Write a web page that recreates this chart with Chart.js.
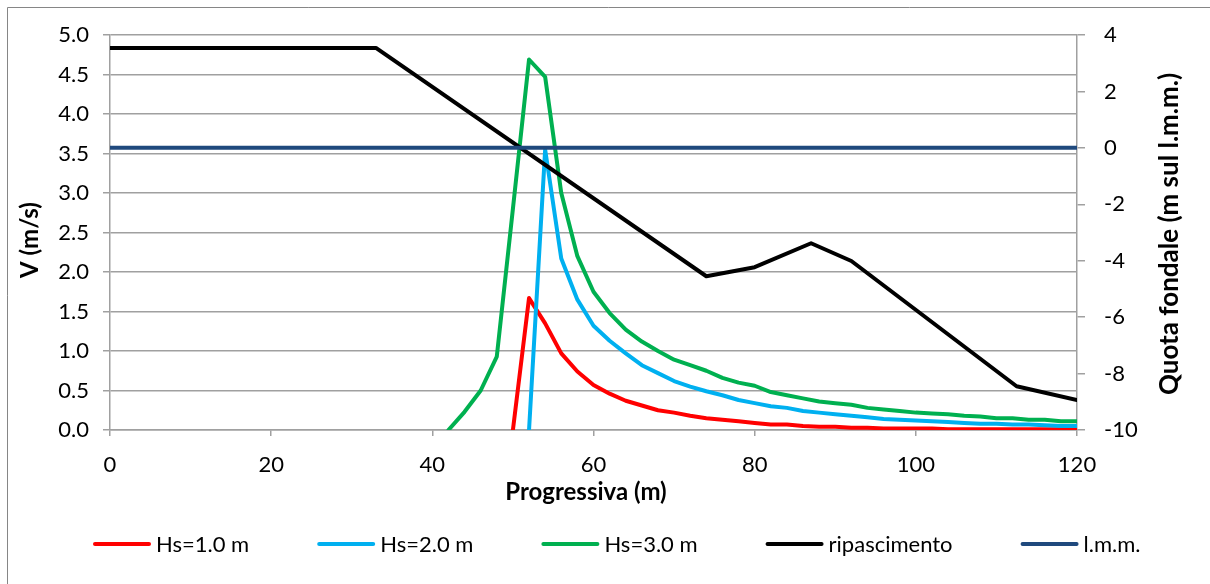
<!DOCTYPE html>
<html>
<head>
<meta charset="utf-8">
<title>Velocità e quota fondale</title>
<script src="https://cdn.jsdelivr.net/npm/chart.js@4.4.1/dist/chart.umd.min.js"></script>
<style>
  html, body { margin: 0; padding: 0; background: #fff; overflow: hidden; }
  #wrap { width: 1210px; height: 584px; position: relative; }
</style>
</head>
<body>
<div id="wrap"><canvas id="chart" width="1210" height="584"></canvas></div>
<script>
// ===== DATA =====
const progressiva = [42, 44, 46, 48, 50, 52, 54, 56, 58, 60, 62, 64, 66, 68, 70, 72, 74, 76, 78, 80,
                     82, 84, 86, 88, 90, 92, 94, 96, 98, 100, 102, 104, 106, 108, 110, 112, 114, 116, 118, 120];

const vHs1 = [null, null, null, null, 0, 1.67, 1.35, 0.97, 0.74, 0.57, 0.46, 0.37, 0.31, 0.25, 0.22, 0.18, 0.15, 0.13, 0.11, 0.09,
              0.07, 0.07, 0.05, 0.04, 0.04, 0.03, 0.03, 0.02, 0.02, 0.02, 0.02, 0.01, 0.01, 0.01, 0.01, 0.01, 0.01, 0.01, 0.01, 0.01];
const vHs2 = [null, null, null, null, null, 0, 3.55, 2.17, 1.65, 1.32, 1.13, 0.97, 0.82, 0.72, 0.62, 0.55, 0.49, 0.44, 0.38, 0.34,
              0.30, 0.28, 0.24, 0.22, 0.20, 0.18, 0.16, 0.14, 0.13, 0.12, 0.11, 0.10, 0.09, 0.08, 0.08, 0.07, 0.07, 0.06, 0.05, 0.05];
const vHs3 = [0, 0.23, 0.5, 0.93, 2.8, 4.69, 4.47, 3.0, 2.2, 1.75, 1.48, 1.27, 1.12, 1.0, 0.89, 0.82, 0.75, 0.66, 0.6, 0.56,
              0.48, 0.44, 0.4, 0.36, 0.34, 0.32, 0.28, 0.26, 0.24, 0.22, 0.21, 0.2, 0.18, 0.17, 0.15, 0.15, 0.13, 0.13, 0.11, 0.11];

const xRipascimento = [0, 33, 74, 80, 87, 92, 112.5, 120];
const zRipascimento = [3.54, 3.54, -4.55, -4.23, -3.38, -4.01, -8.45, -8.94];

const xLmm = [0, 120];
const zLmm = [0, 0];

const seriesNames = ["Hs=1.0 m", "Hs=2.0 m", "Hs=3.0 m", "ripascimento", "l.m.m."];
const seriesColors = ["#ff0000", "#00b0f0", "#00b050", "#000000", "#1f497d"];

const xTitle = "Progressiva (m)";
const yTitle = "V (m/s)";
const y2Title = "Quota fondale (m sul l.m.m.)";

// ===== HELPERS =====
const pairs = (xs, ys) => xs.map((x, i) => ({ x: x, y: ys[i] }));
const gridColor = "#a0a0a0";
const FONT = "Lato, 'Open Sans', sans-serif";

function lineSet(i, data, axis, order) {
  return {
    label: seriesNames[i],
    data: data,
    yAxisID: axis,
    borderColor: seriesColors[i],
    backgroundColor: seriesColors[i],
    borderWidth: 4,
    pointRadius: 0,
    pointHoverRadius: 0,
    tension: 0,
    fill: false,
    spanGaps: false,
    borderJoinStyle: "round",
    borderCapStyle: "round",
    order: order
  };
}

// axis titles, frame and legend drawn by hand (Excel-like placement)
const extras = {
  id: "extras",
  beforeDraw(chart) {
    const ctx = chart.ctx;
    ctx.save();
    ctx.strokeStyle = "#868686";
    ctx.lineWidth = 1;
    ctx.beginPath();
    ctx.moveTo(7.5, 584);
    ctx.lineTo(7.5, 7.5);
    ctx.lineTo(1210, 7.5);
    ctx.stroke();
    ctx.restore();
  },
  afterDraw(chart) {
    const ctx = chart.ctx;
    ctx.save();
    ctx.fillStyle = "#000";
    ctx.textBaseline = "alphabetic";
    ctx.textAlign = "center";
    // x title
    ctx.font = "bold 24px " + FONT;
    ctx.fillText(xTitle, 586, 500);
    // left title
    ctx.save();
    ctx.translate(38, 240);
    ctx.rotate(-Math.PI / 2);
    ctx.fillText(yTitle, 0, 0);
    ctx.restore();
    // right title
    ctx.font = "bold 26px " + FONT;
    ctx.save();
    ctx.translate(1178, 234);
    ctx.rotate(-Math.PI / 2);
    ctx.fillText(y2Title, 0, 0);
    ctx.restore();

    // legend
    ctx.font = "22px " + FONT;
    ctx.textAlign = "left";
    let x = 93;
    const y = 544;
    chart.data.datasets.forEach(ds => {
      ctx.strokeStyle = ds.borderColor;
      ctx.lineWidth = 4;
      ctx.lineCap = "round";
      ctx.beginPath();
      ctx.moveTo(x + 2, y);
      ctx.lineTo(x + 56, y);
      ctx.stroke();
      ctx.fillText(ds.label, x + 63, 552);
      x += 63 + ctx.measureText(ds.label).width + 68;
    });
    ctx.restore();
  }
};

// ===== CHART =====
Chart.defaults.font.family = FONT;
Chart.defaults.color = "#000";

new Chart(document.getElementById("chart"), {
  type: "line",
  data: {
    datasets: [
      lineSet(0, pairs(progressiva, vHs1), "y", 5),
      lineSet(1, pairs(progressiva, vHs2), "y", 4),
      lineSet(2, pairs(progressiva, vHs3), "y", 3),
      lineSet(3, pairs(xRipascimento, zRipascimento), "y2", 2),
      lineSet(4, pairs(xLmm, zLmm), "y2", 1)
    ]
  },
  options: {
    responsive: false,
    animation: false,
    layout: { padding: { top: 35, right: 0, bottom: 79, left: 0 } },
    plugins: {
      legend: { display: false },
      tooltip: { enabled: false }
    },
    scales: {
      x: {
        type: "linear",
        min: 0,
        max: 120,
        ticks: { stepSize: 20, padding: 16, maxRotation: 0, font: { size: 22 } },
        grid: { drawOnChartArea: false, drawTicks: true, tickLength: 6, color: gridColor, lineWidth: 1.5 },
        border: { color: gridColor, width: 1.5 },
        afterFit: s => { s.height = 75; }
      },
      y: {
        position: "left",
        min: 0,
        max: 5,
        ticks: { stepSize: 0.5, padding: 14, font: { size: 22 }, callback: v => v.toFixed(1) },
        grid: { color: gridColor, lineWidth: 1.5, tickLength: 7 },
        border: { color: gridColor, width: 1.5 },
        afterFit: s => { s.width = 110; }
      },
      y2: {
        position: "right",
        min: -10,
        max: 4,
        ticks: { stepSize: 2, padding: 19, font: { size: 22 } },
        grid: { drawOnChartArea: false, tickLength: 8, color: gridColor, lineWidth: 1.5 },
        border: { color: gridColor, width: 1.5 },
        afterFit: s => { s.width = 133; }
      }
    }
  },
  plugins: [extras]
});
</script>
</body>
</html>
